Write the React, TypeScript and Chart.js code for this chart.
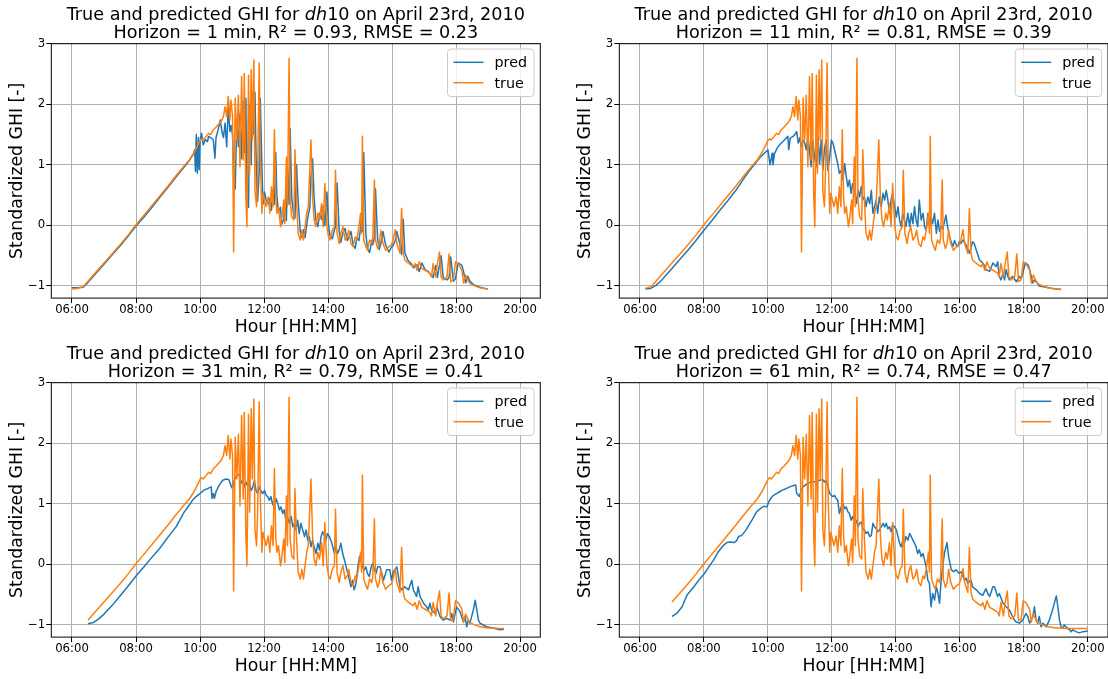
import React, { useEffect, useRef } from 'react';
import { Chart, registerables } from 'chart.js';

Chart.register(...registerables);

// ---------------- data ----------------
const X_TICK_LABELS = ['06:00', '08:00', '10:00', '12:00', '14:00', '16:00', '18:00', '20:00'];
const Y_TICKS = [-1, 0, 1, 2, 3];
const HORIZONS = [1, 11, 31, 61];
const R2 = [0.93, 0.81, 0.79, 0.74];
const RMSE = [0.23, 0.39, 0.41, 0.47];
const WINDOW_START = ['06:00', '06:10', '06:30', '07:00'];
const WINDOW_END = ['19:00', '19:10', '19:30', '20:00'];

// [minutes since midnight, standardized GHI]
const TRUE_GHI: [number, number][] = [
  [360,-1.05],[370,-1.04],[381,-1.01],[390,-0.92],[400,-0.82],[410,-0.72],[420,-0.62],[435,-0.47],[450,-0.32],[465,-0.16],
  [480,0.01],[495,0.17],[510,0.33],[525,0.49],[540,0.65],[555,0.82],[570,0.98],[580,1.08],[590,1.22],[596,1.33],
  [600,1.40],[603,1.43],[606,1.41],[610,1.45],[616,1.52],[620,1.50],[625,1.58],[630,1.62],[634,1.66],[638,1.70],
  [641,1.74],[644,1.80],[647,1.96],[650,1.80],[653,2.13],[656,1.74],[658,2.07],[661,1.80],[663,-0.44],[666,2.10],
  [669,1.41],[672,2.15],[675,0.97],[678,2.46],[681,1.08],[683,2.51],[686,0.47],[688,-0.02],[691,2.48],[693,0.86],
  [696,2.57],[698,1.41],[701,2.73],[703,0.58],[706,0.31],[708,0.86],[711,2.68],[713,1.13],[716,0.20],[718,0.53],
  [721,0.42],[724,0.31],[728,0.47],[731,0.20],[734,0.64],[737,0.31],[739.5,1.58],[742,0.47],[744,0.20],[747,0.31],
  [751,-0.02],[753,0.09],[757,0.42],[759,0.03],[762,1.13],[764,0.31],[767,2.76],[769,0.42],[772,0.14],[776,0.09],
  [778,1.25],[781,0.42],[784,-0.13],[788,-0.24],[791,-0.08],[794,-0.24],[797,-0.02],[800,0.20],[803,0.31],[806,0.97],
  [808,1.41],[811,0.47],[814,0.09],[817,-0.02],[821,0.20],[824,0.09],[828,0.36],[831,-0.02],[834,0.69],[838,-0.02],
  [841,-0.19],[844,-0.24],[848,-0.08],[852,-0.02],[854,0.91],[857,-0.13],[861,-0.30],[864,-0.13],[868,-0.02],[872,-0.24],
  [876,-0.19],[879,-0.08],[883,-0.30],[887,-0.35],[891,-0.19],[894,-0.24],[898,-0.02],[901,0.20],[903,-0.13],[904.5,1.47],
  [907,-0.24],[911,-0.35],[914,-0.41],[918,-0.24],[922,-0.30],[924,-0.19],[927,0.75],[929,-0.24],[933,-0.38],[936,-0.30],
  [939,-0.08],[943,-0.30],[948,-0.41],[954,-0.35],[959,-0.32],[962,-0.24],[966,-0.07],[969,-0.30],[975,-0.46],[978,0.28],
  [981,-0.46],[984,-0.57],[990,-0.62],[996,-0.66],[1000,-0.68],[1003,-0.63],[1007,-0.74],[1011,-0.60],[1016,-0.71],[1022,-0.74],
  [1028,-0.77],[1031,-0.79],[1034,-0.85],[1037,-0.63],[1042,-0.85],[1045,-0.63],[1049,-0.44],[1052,-0.85],[1056,-0.90],[1063,-0.85],
  [1067,-0.47],[1070,-0.93],[1075,-0.90],[1079,-0.60],[1084,-0.63],[1091,-0.74],[1094,-0.95],[1098,-0.82],[1102,-0.90],[1106,-0.96],
  [1113,-0.99],[1119,-1.01],[1125,-1.03],[1134,-1.04],[1140,-1.05],[1150,-1.05],[1160,-1.06],[1170,-1.06],[1185,-1.06],[1200,-1.06],
];

const PRED_1: [number, number][] = [
  [360,-1.03],[370,-1.03],[381,-1.02],[390,-0.94],[400,-0.84],[410,-0.74],[420,-0.64],[435,-0.49],[450,-0.34],[465,-0.18],
  [480,-0.01],[495,0.14],[510,0.30],[525,0.47],[540,0.63],[555,0.80],[570,0.96],[580,1.07],[588,1.18],[590,1.25],
  [591.5,0.89],[593,1.50],[595,0.86],[597,1.45],[598.5,0.92],[600,1.38],[603,1.52],[606,1.33],[610,1.42],[614,1.38],
  [616,1.47],[620,1.45],[625,1.41],[628,1.11],[630,1.45],[634,1.58],[638,1.74],[641,1.55],[644,1.45],[647,1.69],
  [650,1.30],[653,1.96],[656,1.55],[658,1.65],[661,1.50],[663,0.90],[666,0.60],[669,1.75],[672,1.30],[675,1.85],
  [678,1.10],[681,2.05],[683,1.20],[686,2.10],[688,0.40],[691,0.30],[693,2.00],[696,1.00],[698,2.20],[701,1.50],
  [703,2.20],[706,0.70],[708,0.40],[711,0.90],[713,2.10],[716,1.00],[718,0.35],[721,0.55],[724,0.42],[728,0.35],
  [731,0.45],[734,0.25],[737,0.60],[739.5,0.35],[742,1.20],[744,0.50],[747,0.22],[751,0.30],[753,0.02],[757,0.10],
  [759,0.40],[762,0.08],[764,0.95],[767,0.35],[769,1.60],[772,0.45],[776,0.15],[778,0.12],[781,1.00],[784,0.40],
  [788,-0.10],[791,-0.20],[794,-0.07],[797,-0.20],[800,0.00],[803,0.18],[806,0.30],[808,0.80],[811,1.10],[814,0.45],
  [817,0.10],[821,-0.02],[824,0.20],[828,0.10],[831,0.33],[834,0.00],[838,0.55],[841,0.00],[844,-0.18],[848,-0.22],
  [852,-0.08],[854,-0.02],[857,0.70],[861,-0.10],[864,-0.28],[868,-0.12],[872,-0.05],[876,-0.25],[879,-0.20],[883,-0.10],
  [887,-0.32],[891,-0.38],[894,-0.20],[898,-0.25],[901,-0.05],[903,0.18],[904.5,-0.10],[907,1.20],[911,-0.15],[914,-0.38],
  [918,-0.45],[922,-0.25],[924,-0.32],[927,-0.20],[929,0.60],[933,-0.22],[936,-0.40],[939,-0.30],[943,-0.10],[948,-0.32],
  [954,-0.44],[959,-0.36],[962,-0.33],[966,-0.25],[969,-0.10],[975,-0.32],[978,-0.48],[981,0.10],[984,-0.45],[990,-0.58],
  [996,-0.63],[1000,-0.70],[1003,-0.68],[1007,-0.65],[1011,-0.76],[1016,-0.62],[1022,-0.73],[1028,-0.76],[1031,-0.80],[1034,-0.82],
  [1037,-0.86],[1042,-0.66],[1045,-0.86],[1049,-0.65],[1052,-0.50],[1056,-0.86],[1063,-0.90],[1067,-0.86],[1070,-0.52],[1075,-0.92],
  [1079,-0.88],[1084,-0.62],[1091,-0.66],[1094,-0.76],[1098,-0.95],[1102,-0.84],[1106,-0.92],[1113,-0.98],[1119,-1.00],[1125,-1.02],
  [1134,-1.04],[1140,-1.05],
];

const PRED_11: [number, number][] = [
  [370,-1.05],[380,-1.04],[390,-0.99],[400,-0.91],[410,-0.81],[420,-0.71],[435,-0.56],[450,-0.41],[465,-0.25],[480,-0.08],
  [495,0.08],[510,0.25],[525,0.41],[540,0.58],[547,0.67],[556,0.79],[566,0.91],[575,1.01],[584,1.11],[592,1.18],
  [600,1.25],[604,1.00],[608,1.19],[609.5,1.00],[612.5,1.19],[619,1.30],[625,1.36],[631,1.41],[637.5,1.47],[639,1.25],
  [642,1.44],[647,1.47],[650,1.49],[654,1.55],[657,1.36],[660,1.45],[662.5,1.30],[666,1.41],[669,1.36],[672,1.25],
  [675,1.47],[678,1.25],[681,0.97],[684,1.41],[687.5,1.13],[690.6,0.97],[694,1.47],[697,1.02],[700,1.41],[703,0.91],
  [706,1.25],[709,1.41],[712.5,0.91],[716,1.13],[719,1.41],[722,1.36],[725,1.25],[728,1.13],[731,1.02],[734,0.86],
  [737.5,0.91],[740.6,0.75],[744,1.02],[747,0.80],[750,0.64],[753,0.75],[756,0.53],[759,0.69],[762.5,0.58],[766,0.36],
  [769,0.58],[772,0.47],[775,0.64],[778,0.42],[781,0.47],[784,0.31],[787.5,0.47],[791,0.36],[794,0.58],[797,0.20],
  [800,0.31],[803,0.42],[806,0.20],[809,0.47],[812.5,0.31],[816,0.53],[819,0.42],[822,0.58],[825,0.42],[828,0.20],
  [831,0.42],[834,0.53],[837.5,0.31],[841,0.14],[844,0.31],[847,0.09],[850,-0.02],[853,0.20],[856,0.09],[859,-0.02],
  [862.5,0.20],[866,-0.02],[869,0.20],[872,0.03],[875,0.31],[878,0.09],[881,-0.02],[884,0.42],[887.5,0.09],[891,0.20],
  [894,-0.02],[897,-0.08],[900,0.20],[903,-0.02],[906,0.14],[909,0.03],[912.5,0.20],[916,-0.13],[919,0.09],[922,-0.10],
  [925,-0.02],[928,-0.06],[931,0.05],[934,0.17],[937,-0.02],[941,-0.19],[944,-0.28],[947,-0.35],[950,-0.25],[953,-0.32],
  [956,-0.35],[959,-0.27],[962,-0.30],[966,-0.24],[972,-0.33],[978,-0.46],[984,-0.27],[987,-0.30],[991,-0.41],[997,-0.57],
  [1003,-0.62],[1006,-0.66],[1009,-0.73],[1016,-0.76],[1022,-0.62],[1028,-0.68],[1031,-0.60],[1034,-0.84],[1037,-0.90],[1041,-0.80],
  [1044,-0.90],[1047,-0.73],[1050,-0.84],[1053,-0.90],[1059,-0.84],[1066,-0.93],[1072,-0.84],[1075,-0.88],[1078,-0.79],[1083,-0.62],
  [1088,-0.65],[1091,-0.73],[1094,-0.84],[1097,-0.95],[1100,-0.90],[1103,-0.93],[1106,-0.96],[1109,-1.00],[1122,-1.02],[1134,-1.04],
  [1150,-1.06],
];

const PRED_31: [number, number][] = [
  [390,-0.98],[400,-0.96],[410,-0.90],[420,-0.82],[435,-0.68],[450,-0.52],[465,-0.36],[480,-0.19],[495,-0.04],[510,0.12],
  [525,0.27],[540,0.45],[555,0.62],[570,0.86],[580,0.98],[586,1.06],[592.5,1.12],[600,1.17],[608,1.23],[614,1.25],
  [621,1.28],[622.5,1.09],[625,1.17],[627,1.09],[630,1.20],[636,1.31],[642.5,1.39],[649,1.41],[654,1.40],[659,1.28],
  [661,1.25],[664,1.39],[667.5,1.45],[671,1.47],[674,1.50],[677,1.34],[680,1.39],[683,1.28],[686,1.36],[689,1.30],
  [692.5,1.34],[696,1.22],[699,1.28],[702,1.39],[705,1.22],[708,1.17],[711,1.28],[714,1.22],[717.5,1.17],[721,1.22],
  [724,1.14],[727,1.12],[730,1.06],[733,1.12],[736,1.00],[739,0.95],[742.5,1.09],[746,1.00],[749,0.90],[752,0.95],
  [755,0.84],[758,0.90],[761,0.73],[764,0.79],[767.5,0.68],[771,0.79],[774,0.62],[777,0.68],[780,0.57],[783,0.73],
  [786,0.51],[789,0.68],[792.5,0.57],[796,0.46],[799,0.57],[802,0.40],[805,0.46],[808,0.29],[811,0.40],[814,0.29],
  [817.5,0.18],[821,0.35],[824,0.24],[827,0.46],[830,0.54],[833,0.48],[836,0.40],[839,0.51],[842.5,0.46],[846,0.38],
  [849,0.29],[852,0.18],[855,0.29],[858,0.18],[861,0.24],[864,0.35],[867.5,0.18],[871,0.07],[874,-0.04],[877,-0.15],
  [880,-0.26],[883,-0.37],[886,-0.26],[889,-0.42],[892.5,-0.31],[896,-0.04],[899,0.13],[902,0.07],[905,-0.04],[908,-0.09],
  [911,-0.04],[914,-0.15],[917.5,-0.20],[921,-0.04],[924,0.02],[927,-0.09],[930,-0.15],[933,-0.04],[937.5,-0.04],[941,-0.15],
  [944,-0.26],[950,-0.09],[956,-0.09],[959,-0.26],[962.5,-0.12],[969,-0.04],[972,-0.20],[975,-0.37],[978,-0.42],[984,-0.37],
  [991,-0.42],[997,-0.26],[1000,-0.42],[1006,-0.53],[1009,-0.37],[1012.5,-0.53],[1019,-0.64],[1025,-0.70],[1028,-0.75],[1031,-0.64],
  [1034,-0.75],[1041,-0.81],[1044,-0.70],[1050,-0.86],[1056,-0.92],[1062.5,-0.89],[1069,-0.92],[1072,-0.81],[1075,-0.95],[1081,-0.70],
  [1087.5,-0.78],[1094,-0.95],[1097,-0.86],[1100,-1.03],[1103,-0.92],[1106,-0.97],[1112.5,-0.75],[1116,-0.59],[1119,-0.75],[1122,-0.92],
  [1125,-0.97],[1131,-1.00],[1137.5,-1.03],[1150,-1.05],[1162.5,-1.08],[1170,-1.07],
];

const PRED_61: [number, number][] = [
  [420,-0.86],[429,-0.81],[439,-0.70],[448,-0.51],[461,-0.37],[473,-0.23],[481,-0.15],[489,-0.04],[498,0.07],[507,0.21],
  [517,0.32],[523,0.36],[529,0.37],[536,0.36],[541,0.39],[545,0.46],[551,0.48],[559,0.57],[570,0.73],[579,0.87],
  [586,0.92],[592,0.96],[598,0.95],[603,1.06],[609,1.13],[616,1.17],[622,1.20],[628,1.23],[634,1.25],[641,1.28],
  [647,1.30],[652,1.31],[654,1.17],[657,1.14],[659,1.12],[662.5,1.23],[666,1.28],[672,1.32],[678,1.35],[684,1.36],
  [691,1.37],[697,1.39],[703,1.40],[706,1.36],[709,1.39],[712.5,1.28],[716,1.17],[719,1.14],[722,1.12],[725,1.14],
  [728,1.09],[731,1.06],[734,0.84],[737.5,0.95],[741,1.00],[744,0.92],[747,0.95],[750,0.87],[753,0.84],[756,0.73],
  [759,0.79],[762.5,0.68],[766,0.73],[769,0.62],[772,0.68],[775,0.70],[778,0.59],[781,0.57],[784,0.51],[787.5,0.54],
  [791,0.46],[794,0.48],[797,0.68],[800,0.62],[803,0.59],[806,0.54],[809,0.57],[812.5,0.62],[816,0.68],[819,0.62],
  [822,0.68],[825,0.59],[828,0.62],[831,0.54],[834,0.65],[837.5,0.62],[841,0.57],[844,0.46],[847,0.35],[850,0.29],
  [853,0.40],[856,0.35],[859,0.46],[862.5,0.40],[866,0.51],[869,0.46],[872,0.40],[875,0.35],[878,0.29],[881,0.18],
  [884,0.24],[887.5,0.13],[891,0.18],[894,0.07],[897,-0.04],[900,-0.26],[903,-0.31],[906,-0.70],[909,-0.48],[912.5,-0.59],
  [916,-0.37],[919,-0.48],[922,-0.64],[925,-0.26],[928,-0.04],[931,0.18],[936,0.36],[939,0.13],[944,-0.09],[948,-0.12],
  [953,-0.09],[959,-0.15],[962.5,-0.12],[966,-0.20],[969,-0.26],[972,-0.23],[975,-0.31],[981,-0.26],[984,-0.37],[991,-0.42],
  [997,-0.48],[1003,-0.51],[1009,-0.40],[1012.5,-0.48],[1016,-0.53],[1022,-0.37],[1025,-0.37],[1031,-0.53],[1034,-0.48],[1037.5,-0.56],
  [1041,-0.64],[1047,-0.70],[1053,-0.75],[1059,-0.86],[1062.5,-0.92],[1066,-0.95],[1072,-0.97],[1078,-0.92],[1084,-0.81],[1087.5,-0.86],
  [1091,-0.97],[1097,-0.86],[1100,-0.70],[1103,-0.92],[1106,-0.97],[1109,-0.86],[1112.5,-1.03],[1116,-0.97],[1122,-1.03],[1128,-0.92],
  [1134,-0.75],[1141,-0.52],[1144,-0.70],[1147,-0.92],[1150,-1.03],[1153,-1.05],[1156,-1.00],[1159,-1.03],[1166,-1.08],[1169,-1.11],
  [1172,-1.08],[1178,-1.11],[1184,-1.13],[1191,-1.11],[1200,-1.10],
];

const PREDS = [PRED_1, PRED_11, PRED_31, PRED_61];

// ---------------- style / layout ----------------
const BLUE = '#1f77b4';
const ORANGE = '#ff7f0e';
const FONT = '"DejaVu Sans", "Liberation Sans", sans-serif';
const FIG_W = 1108;
const FIG_H = 679;
const PANELS = [
  { left: 51.3, right: 540.3, top: 43.7, bottom: 298.1 },
  { left: 619.3, right: 1108, top: 43.7, bottom: 298.1 },
  { left: 51.3, right: 540.3, top: 382.7, bottom: 637.1 },
  { left: 619.3, right: 1108, top: 382.7, bottom: 637.1 },
];
const X_MIN = 321.2;
const X_MAX = 1238.0;
const Y_MIN = -1.2;
const Y_MAX = 3.0;
const Y_BOX_W = 45;
const X_BOX_H = 40;

const toMin = (s: string) => {
  const [h, m] = s.split(':').map(Number);
  return h * 60 + m;
};
const fmtHM = (v: number) => {
  const h = Math.floor(v / 60);
  const m = Math.round(v - h * 60);
  return `${String(h).padStart(2, '0')}:${String(m).padStart(2, '0')}`;
};

function drawRich(ctx: CanvasRenderingContext2D, segs: { t: string; it?: boolean }[], cx: number, y: number, size: number) {
  const widths = segs.map((s) => {
    ctx.font = `${s.it ? 'italic ' : ''}${size}px ${FONT}`;
    return ctx.measureText(s.t).width;
  });
  const total = widths.reduce((a, b) => a + b, 0);
  let x = cx - total / 2;
  ctx.textAlign = 'left';
  ctx.textBaseline = 'alphabetic';
  segs.forEach((s, k) => {
    ctx.font = `${s.it ? 'italic ' : ''}${size}px ${FONT}`;
    ctx.fillText(s.t, x, y);
    x += widths[k];
  });
}

function roundRectPath(ctx: CanvasRenderingContext2D, x: number, y: number, w: number, h: number, r: number) {
  ctx.beginPath();
  ctx.moveTo(x + r, y);
  ctx.lineTo(x + w - r, y);
  ctx.arcTo(x + w, y, x + w, y + r, r);
  ctx.lineTo(x + w, y + h - r);
  ctx.arcTo(x + w, y + h, x + w - r, y + h, r);
  ctx.lineTo(x + r, y + h);
  ctx.arcTo(x, y + h, x, y + h - r, r);
  ctx.lineTo(x, y + r);
  ctx.arcTo(x, y, x + r, y, r);
  ctx.closePath();
}

function makeChart(canvas: HTMLCanvasElement, i: number) {
  const P = PANELS[i];
  const start = toMin(WINDOW_START[i]);
  const end = toMin(WINDOW_END[i]);
  const inWin = (pairs: [number, number][]) =>
    pairs.filter(([t]) => t >= start && t <= end).map(([t, v]) => ({ x: t, y: v }));

  const deco = {
    id: 'deco' + i,
    afterDraw(chart: any) {
      const ctx: CanvasRenderingContext2D = chart.ctx;
      const a = chart.chartArea;
      ctx.save();
      // frame
      ctx.strokeStyle = '#000';
      ctx.lineWidth = 1;
      ctx.strokeRect(a.left, a.top, a.right - a.left, a.bottom - a.top);
      // titles
      const cx = (a.left + a.right) / 2;
      ctx.fillStyle = '#000';
      drawRich(ctx, [{ t: 'True and predicted GHI for ' }, { t: 'dh', it: true }, { t: '10 on April 23rd, 2010' }], cx, a.top - 24.0, 17.6);
      drawRich(ctx, [{ t: `Horizon = ${HORIZONS[i]} min, R\u00B2 = ${R2[i].toFixed(2)}, RMSE = ${RMSE[i].toFixed(2)}` }], cx, a.top - 5.6, 17.6);
      // axis labels
      ctx.font = `17.3px ${FONT}`;
      ctx.textAlign = 'center';
      ctx.textBaseline = 'alphabetic';
      ctx.fillText('Hour [HH:MM]', cx, a.bottom + 33.5);
      ctx.save();
      ctx.translate(a.left - 29.8, (a.top + a.bottom) / 2);
      ctx.rotate(-Math.PI / 2);
      ctx.fillText('Standardized GHI [-]', 0, 0);
      ctx.restore();
      // legend
      const bw = 86.5;
      const bh = 47.5;
      const bx = a.right - 6.3 - bw;
      const by = a.top + 5.3;
      roundRectPath(ctx, bx, by, bw, bh, 3.5);
      ctx.fillStyle = 'rgba(255,255,255,0.8)';
      ctx.fill();
      ctx.strokeStyle = '#cccccc';
      ctx.lineWidth = 1;
      ctx.stroke();
      const items: [string, string][] = [['pred', BLUE], ['true', ORANGE]];
      items.forEach(([label, color], k) => {
        const ly = a.top + 18.6 + k * 20.4;
        ctx.beginPath();
        ctx.moveTo(bx + 6, ly);
        ctx.lineTo(bx + 36, ly);
        ctx.strokeStyle = color;
        ctx.lineWidth = 1.5;
        ctx.stroke();
        ctx.fillStyle = '#000';
        ctx.font = `14.3px ${FONT}`;
        ctx.textAlign = 'left';
        ctx.textBaseline = 'alphabetic';
        ctx.fillText(label, bx + 47, ly + 5);
      });
      ctx.restore();
    },
  };

  const gridOpts = { color: '#b0b0b0', lineWidth: 1, tickColor: '#000', tickLength: 5, tickWidth: 1, drawTicks: true };
  const tickFont = { family: FONT, size: 11.7 };

  return new Chart(canvas, {
    type: 'line',
    data: {
      datasets: [
        {
          label: 'true',
          data: inWin(TRUE_GHI),
          borderColor: ORANGE,
          backgroundColor: ORANGE,
          borderWidth: 1.5,
          pointRadius: 0,
          fill: false,
          tension: 0,
          order: 0,
          borderJoinStyle: 'round',
        },
        {
          label: 'pred',
          data: inWin(PREDS[i]),
          borderColor: BLUE,
          backgroundColor: BLUE,
          borderWidth: 1.5,
          pointRadius: 0,
          fill: false,
          tension: 0,
          order: 1,
          borderJoinStyle: 'round',
        },
      ],
    } as any,
    options: {
      animation: false,
      responsive: false,
      devicePixelRatio: 1,
      events: [],
      layout: {
        padding: {
          left: P.left - Y_BOX_W,
          right: FIG_W - P.right,
          top: P.top,
          bottom: FIG_H - P.bottom - X_BOX_H,
        },
      },
      plugins: {
        legend: { display: false },
        tooltip: { enabled: false },
        title: { display: false },
      },
      scales: {
        x: {
          type: 'linear',
          min: X_MIN,
          max: X_MAX,
          bounds: 'data',
          afterBuildTicks: (s: any) => {
            s.ticks = X_TICK_LABELS.map((l) => ({ value: toMin(l) }));
          },
          afterFit: (s: any) => {
            s.height = X_BOX_H;
          },
          ticks: {
            callback: (v: any) => fmtHM(Number(v)),
            color: '#000',
            font: tickFont,
            padding: 0,
            maxRotation: 0,
            autoSkip: false,
          },
          grid: gridOpts,
          border: { display: false },
        },
        y: {
          type: 'linear',
          min: Y_MIN,
          max: Y_MAX,
          bounds: 'data',
          afterBuildTicks: (s: any) => {
            s.ticks = Y_TICKS.map((v) => ({ value: v }));
          },
          afterFit: (s: any) => {
            s.width = Y_BOX_W;
          },
          ticks: {
            callback: (v: any) => (Number(v) < 0 ? '\u2212' + Math.abs(Number(v)) : String(v)),
            color: '#000',
            font: tickFont,
            padding: 1,
          },
          grid: gridOpts,
          border: { display: false },
        },
      },
    } as any,
    plugins: [deco],
  });
}

export default function App() {
  const refs = useRef<(HTMLCanvasElement | null)[]>([]);
  useEffect(() => {
    const charts = [0, 1, 2, 3].map((i) => makeChart(refs.current[i] as HTMLCanvasElement, i));
    return () => charts.forEach((c) => c.destroy());
  }, []);
  return (
    <div
      style={{
        position: 'fixed',
        left: 0,
        top: 0,
        width: FIG_W,
        height: FIG_H,
        background: '#fff',
        overflow: 'hidden',
      }}
    >
      {[0, 1, 2, 3].map((i) => (
        <canvas
          key={i}
          ref={(el) => {
            refs.current[i] = el;
          }}
          width={FIG_W}
          height={FIG_H}
          style={{ position: 'absolute', left: 0, top: 0, width: FIG_W, height: FIG_H }}
        />
      ))}
    </div>
  );
}
